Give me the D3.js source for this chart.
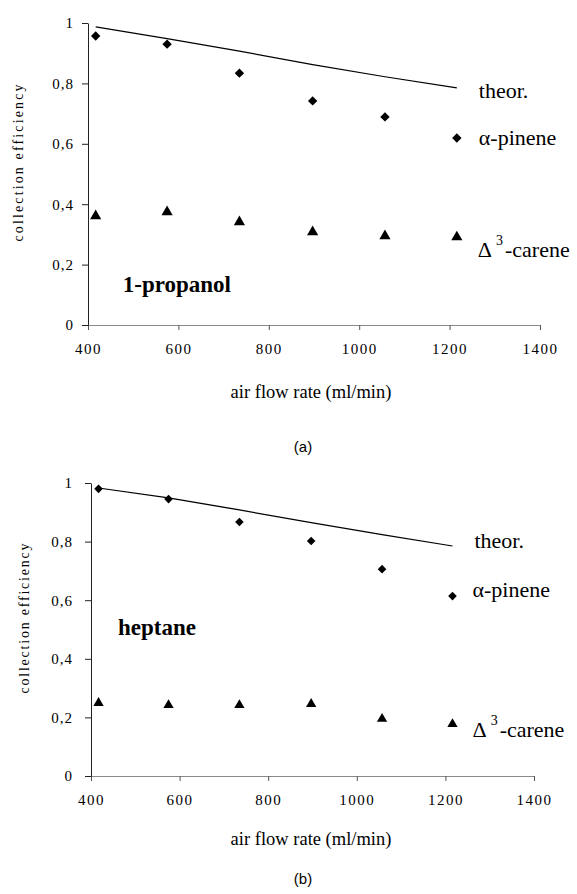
<!DOCTYPE html>
<html lang="en">
<head>
    <meta charset="utf-8">
    <script src="https://d3js.org/d3.v7.min.js"></script>
    <style>
        body { margin: 0; background: #fff; }
        svg text { font-family: "Liberation Serif", "Times New Roman", "DejaVu Serif", serif; fill: #000; }
    </style>
</head>
<body>
<div id="chart"></div>
<script>
    // air flow rate (ml/min) for every measured point
    var flow = [417, 575, 735, 897, 1057, 1216]

    // (a) 1-propanol
    var theorA = [0.987, 0.948, 0.907, 0.862, 0.822, 0.785]
    var pineneA = [0.957, 0.930, 0.834, 0.742, 0.689, 0.619]
    var careneA = [0.361, 0.374, 0.341, 0.308, 0.295, 0.291]

    // (b) heptane
    var theorB = [0.983, 0.949, 0.908, 0.865, 0.824, 0.785]
    var pineneB = [0.980, 0.945, 0.867, 0.802, 0.706, 0.614]
    var careneB = [0.249, 0.242, 0.242, 0.246, 0.195, 0.177]

    var xTicks = [400, 600, 800, 1000, 1200, 1400]
    var yTicks = [0, 0.2, 0.4, 0.6, 0.8, 1]

    var serif = '"Liberation Serif", "Times New Roman", "DejaVu Serif", serif'
    var width = 577, height = 894

    var svg = d3.select("#chart").append("svg")
        .attr("width", width)
        .attr("height", height)

    svg.append("rect").attr("width", width).attr("height", height).attr("fill", "#fff")

    // layout of the two panels (pixels)
    var panels = [
        {
            solvent: "1-propanol", solventAt: [477, 0.109], tag: "(a)", tagY: 452,
            theor: theorA, pinene: pineneA, carene: careneA,
            left: 88, right: 540, top: 23, bottom: 325, yPad: 8,
            xTitleY: 398, yTitleX: 18, yTitleLen: 157,
            dia: 4.7, tri: 54,
            offTheor: [22, 10], offPinene: [22, 7], offCarene: [21, 20]
        },
        {
            solvent: "heptane", solventAt: [461, 0.481], tag: "(b)", tagY: 884,
            theor: theorB, pinene: pineneB, carene: careneB,
            left: 91, right: 534, top: 483, bottom: 776, yPad: 12,
            xTitleY: 845, yTitleX: 24, yTitleLen: 150,
            dia: 4.3, tri: 46,
            offTheor: [22, 2], offPinene: [20, 1], offCarene: [20, 13]
        }
    ]

    var fmt = function(d) { return String(d).replace(".", ",") }

    panels.forEach(function(p) {
        var x = d3.scaleLinear().domain([400, 1400]).range([p.left, p.right])
        var y = d3.scaleLinear().domain([0, 1]).range([p.bottom, p.top])
        var g = svg.append("g")

        // x axis
        var xa = g.append("g")
            .attr("transform", "translate(0," + p.bottom + ")")
            .call(d3.axisBottom(x).tickValues(xTicks).tickSize(5).tickSizeOuter(0).tickPadding(13).tickFormat(d3.format("d")))
            .attr("font-family", serif)
        xa.select(".domain").attr("stroke", "#8a8a8a")
        xa.selectAll(".tick line").attr("stroke", "#555")
        xa.selectAll("text").style("font-size", "15px").style("letter-spacing", "1.5px")
            .style("font-family", serif).attr("fill", "#000")

        // y axis
        var ya = g.append("g")
            .attr("transform", "translate(" + p.left + ",0)")
            .call(d3.axisLeft(y).tickValues(yTicks).tickSize(6).tickSizeOuter(0).tickPadding(p.yPad).tickFormat(fmt))
            .attr("font-family", serif)
        ya.select(".domain").attr("stroke", "#222")
        ya.selectAll(".tick line").attr("stroke", "#222")
        ya.selectAll("text").style("font-size", "15px").style("letter-spacing", "1px")
            .style("font-family", serif).attr("fill", "#000")

        // theoretical curve
        var line = d3.line().x(function(d, i) { return x(flow[i]) }).y(function(d) { return y(d) })
        g.append("path").datum(p.theor)
            .attr("d", line).attr("fill", "none").attr("stroke", "#000").attr("stroke-width", 1.2)

        // alpha-pinene diamonds
        var r = p.dia
        g.selectAll(".dia").data(p.pinene).enter().append("path")
            .attr("d", "M0," + (-r) + "L" + r + ",0L0," + r + "L" + (-r) + ",0Z")
            .attr("transform", function(d, i) { return "translate(" + x(flow[i]) + "," + y(d) + ")" })
            .attr("fill", "#000")

        // delta3-carene triangles
        g.selectAll(".tri").data(p.carene).enter().append("path")
            .attr("d", d3.symbol().type(d3.symbolTriangle).size(p.tri))
            .attr("transform", function(d, i) { return "translate(" + x(flow[i]) + "," + y(d) + ")" })
            .attr("fill", "#000")

        // series labels beside the last point
        var n = flow.length - 1
        var lx = x(flow[n])
        g.append("text").attr("x", lx + p.offTheor[0]).attr("y", y(p.theor[n]) + p.offTheor[1])
            .style("font-size", "22px").text("theor.")
        g.append("text").attr("x", lx + p.offPinene[0]).attr("y", y(p.pinene[n]) + p.offPinene[1])
            .style("font-size", "22px").text("\u03b1-pinene")
        var ct = g.append("text").attr("x", lx + p.offCarene[0]).attr("y", y(p.carene[n]) + p.offCarene[1])
            .style("font-size", "22px")
        ct.append("tspan").text("\u0394")
        ct.append("tspan").attr("dx", 4).attr("dy", -12).style("font-size", "14px").text("3")
        ct.append("tspan").attr("dx", 2).attr("dy", 12).text("-carene")

        // solvent name
        g.append("text").attr("x", x(p.solventAt[0])).attr("y", y(p.solventAt[1]))
            .style("font-size", "23px").style("font-weight", "bold").text(p.solvent)

        // axis titles
        g.append("text").attr("x", 311).attr("y", p.xTitleY).attr("text-anchor", "middle")
            .style("font-size", "18.5px").text("air flow rate (ml/min)")
        g.append("text")
            .attr("transform", "translate(" + p.yTitleX + "," + ((p.top + p.bottom) / 2 - 11) + ") rotate(-90)")
            .attr("text-anchor", "middle").attr("dy", "0.35em")
            .attr("textLength", p.yTitleLen).attr("lengthAdjust", "spacing")
            .style("font-size", "14px").text("collection efficiency")

        // panel tag
        g.append("text").attr("x", 303).attr("y", p.tagY).attr("text-anchor", "middle")
            .style("font-family", '"Liberation Sans", Arial, sans-serif').style("font-size", "15px").text(p.tag)
    })
</script>
</body>
</html>
